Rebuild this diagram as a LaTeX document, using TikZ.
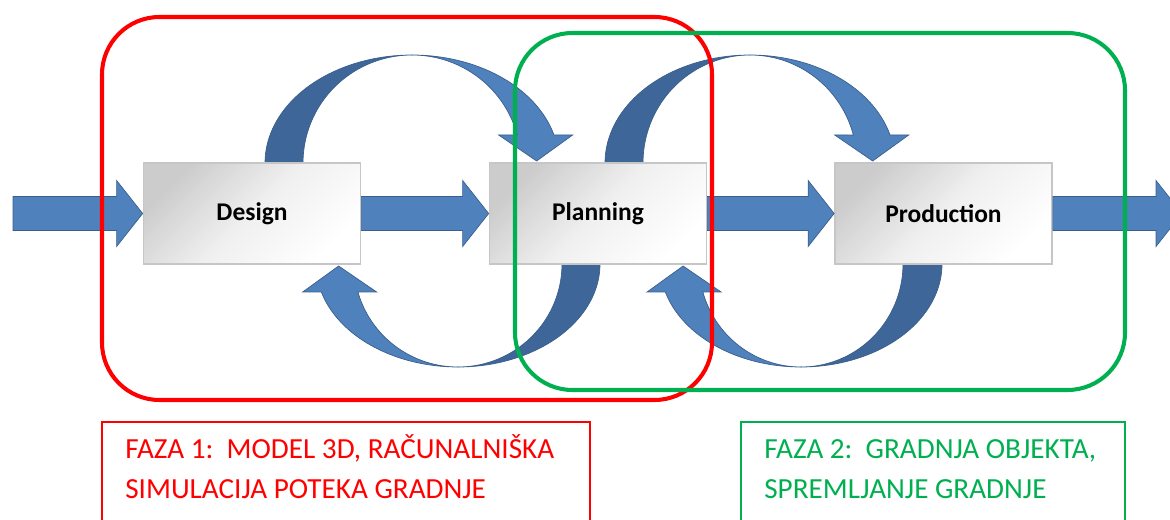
\documentclass[tikz,border=0pt]{standalone}
\usepackage{fontspec}
\setmainfont{Carlito}
\usetikzlibrary{calc}
\definecolor{blueL}{HTML}{4F81BD}
\definecolor{blueD}{HTML}{3F6699}
\definecolor{blueE}{HTML}{3A5F8C}
\definecolor{fred}{HTML}{FF0000}
\definecolor{fgreen}{HTML}{00B050}
\definecolor{boxedge}{HTML}{C6C6C6}
\tikzset{
  darkpart/.style={fill=blueD, draw=blueE, line width=0.4pt},
  lightpart/.style={fill=blueL, draw=blueE, line width=0.4pt},
  barrow/.style={fill=blueL, draw=blueE, line width=0.4pt},
  stepbox/.style={draw=boxedge, line width=1pt, shade, top color=black!20, bottom color=white, middle color=black!6, shading angle=45,
    minimum width=4.34cm, minimum height=2.02cm, inner sep=0pt, font=\fontsize{14.5}{17}\selectfont\bfseries},
  phasebox/.style={line width=2.3pt, rounded corners=1.15cm},
  labelbox/.style={line width=0.9pt},
  labeltext/.style={anchor=base west, inner sep=0pt, font=\fontsize{16.6}{19}\selectfont}
}
\newcommand\bendarrow[3]{%
  \pgfmathsetmacro\te{asin(28/#3)}%
  \pgfmathsetmacro\xo{#1*cos(\te)}%
  \pgfmathsetmacro\xi{#2*cos(\te)}%
  \pgfmathsetmacro\xm{(\xo+\xi)/2}%
  \filldraw[darkpart] plot[samples=40, domain=180:90] ({#1*cos(\x)},{-#3*sin(\x)}) -- plot[samples=40, domain=90:180] ({#2*cos(\x)},{-#3*sin(\x)}) -- cycle;
  \filldraw[lightpart] plot[samples=40, domain=90:\te] ({#1*cos(\x)},{-#3*sin(\x)}) -- ({\xm+37},-28) -- ({\xm+1},-2) -- ({\xm-37},-28) -- plot[samples=40, domain=\te:90] ({#2*cos(\x)},{-#3*sin(\x)}) -- cycle;
}
\newcommand\blockarrow[2]{%
  \filldraw[barrow] ($(#1)+(0,-17)$) -- ($(#2)+(-26,-17)$) -- ($(#2)+(-26,-33)$) -- (#2) -- ($(#2)+(-26,33)$) -- ($(#2)+(-26,17)$) -- ($(#1)+(0,17)$) -- cycle;
}
\begin{document}
\begin{tikzpicture}[x=0.02cm, y=-0.02cm]
\useasboundingbox (0,0) rectangle (1170,520);
% curved arrows
\begin{scope}[shift={(412,163)}] \bendarrow{147}{109}{108} \end{scope}
\begin{scope}[shift={(750,163)}] \bendarrow{145}{107}{108} \end{scope}
\begin{scope}[shift={(458,264)}, rotate=180] \bendarrow{142}{104}{103} \end{scope}
\begin{scope}[shift={(801,264)}, rotate=180] \bendarrow{141}{102}{103} \end{scope}
% boxes
\node[stepbox] (design) at (252,213.5) {Design};
\node[stepbox] (planning) at (598,213.5) {Planning};
\node[stepbox] (production) at (943.5,213.5) {Production};
\coordinate (in) at (13,213.5);
\coordinate (out) at (1182,213.5);
% straight arrows
\blockarrow{in}{design.west}
\blockarrow{design.east}{planning.west}
\blockarrow{planning.east}{production.west}
\blockarrow{production.east}{out}
% phase frames
\draw[phasebox, fred] (102,17) rectangle (712,400);
\draw[phasebox, fgreen] (515,33) rectangle (1125,390);
% labels
\draw[labelbox, fred] (102,422) rectangle (590,540);
\draw[labelbox, fgreen] (741,422) rectangle (1125,540);
\node[labeltext, text=fred] (f1a) at (125,458) {FAZA 1:\ \ MODEL 3D, RAČUNALNIŠKA};
\node[labeltext, text=fred] (f1b) at (125,498) {SIMULACIJA POTEKA GRADNJE};
\node[labeltext, text=fgreen] (f2a) at (764,458) {FAZA 2:\ \ GRADNJA OBJEKTA,};
\node[labeltext, text=fgreen] (f2b) at (764,498) {SPREMLJANJE GRADNJE};
\end{tikzpicture}
\end{document}
